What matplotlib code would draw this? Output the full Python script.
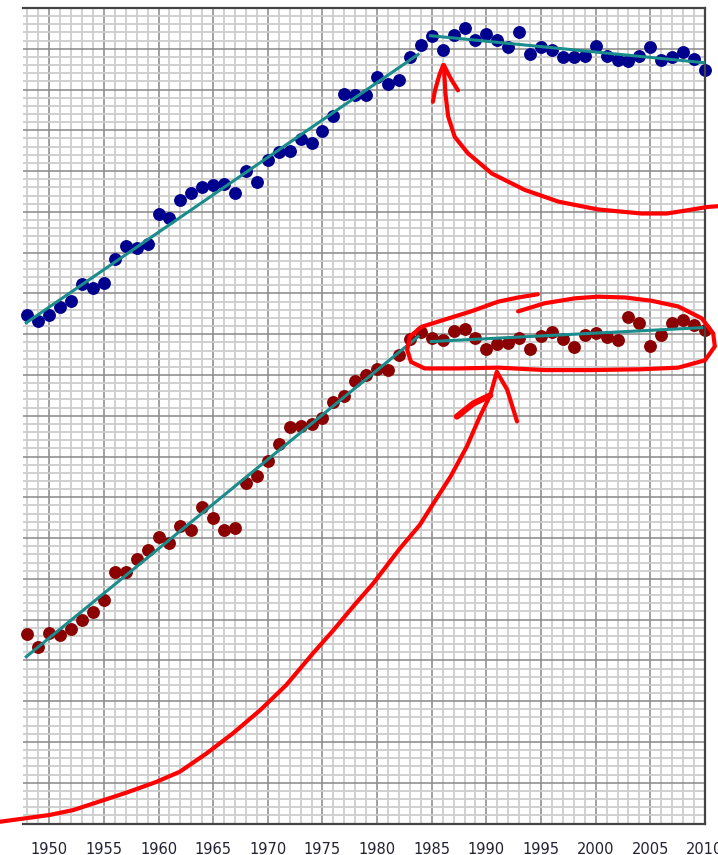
import numpy as np
import matplotlib
matplotlib.use('Agg')
import matplotlib.pyplot as plt
from matplotlib.ticker import MultipleLocator

# ── Data ─────────────────────────────────────────────────────────────────────
years = list(range(1948, 2011))

blue_vals = [
    62.3, 61.6, 62.3, 63.3, 64.1, 66.1, 65.7, 66.3, 69.2, 70.8,
    70.6, 71.0, 74.7, 74.2, 76.4, 77.3, 78.1, 78.3, 78.4, 77.3,
    80.0, 78.7, 81.3, 82.4, 82.5, 83.9, 83.4, 84.9, 86.8, 89.4,
    89.3, 89.3, 91.6, 90.7, 91.2, 94.0, 95.5, 96.6, 94.8, 96.7,
    97.6, 96.1, 96.8, 96.1, 95.2, 97.0, 94.4, 95.2, 94.8, 94.0,
    94.0, 94.1, 95.3, 94.1, 93.6, 93.5, 94.1, 95.2, 93.6, 94.0,
    94.6, 93.8, 92.4,
]

red_vals = [
    23.2, 21.6, 23.3, 23.1, 23.8, 25.0, 25.9, 27.4, 30.8, 30.9,
    32.4, 33.5, 35.1, 34.4, 36.5, 36.0, 38.8, 37.5, 36.0, 36.2,
    41.8, 42.6, 44.5, 46.5, 48.6, 48.8, 49.0, 49.7, 51.7, 52.4,
    54.2, 55.0, 55.7, 55.6, 57.4, 59.4, 60.3, 59.5, 59.3, 60.4,
    60.6, 59.5, 58.2, 58.8, 58.9, 59.5, 58.2, 59.8, 60.3, 59.4,
    58.4, 59.9, 60.2, 59.6, 59.3, 62.1, 61.4, 58.5, 59.9, 61.4,
    61.8, 61.1, 60.5,
]

# trend segments (start/end year, start/end value)
blue_trend_years = [[1947.9, 1983.75], [1984.9, 2009.85]]
blue_trend_vals = [[61.4, 94.3], [96.6, 93.3]]
red_trend_years = [[1947.9, 1983.75], [1984.95, 2009.7]]
red_trend_vals = [[20.45, 59.7], [59.1, 60.8]]

# hand-drawn red annotations (data units)
upper_arrow_years = [2011.2, 2010.2, 2008.4, 2006.5, 2004.2, 2000.2, 1996.6,
                     1993.5, 1990.5, 1988.3, 1987.1, 1986.5, 1986.25, 1986.1,
                     1986.8, 1987.4]
upper_arrow_vals = [75.7, 75.6, 75.2, 74.8, 74.8, 75.3, 76.25,
                    77.7, 79.7, 82.2, 84.2, 86.7, 89.5, 93.0,
                    91.2, 89.9]
upper_barb_years = [1985.1, 1985.3, 1985.7, 1986.05]
upper_barb_vals = [88.5, 89.9, 91.8, 93.0]

loop_years = [1992.9, 1995.35, 1998.1, 2000.2, 2002.7, 2005.1, 2007.55,
              2009.7, 2010.75, 2010.9, 2010.0, 2007.55, 2004.2, 1999.6,
              1995.35, 1991.1, 1987.4, 1984.35, 1983.1, 1982.75, 1983.0,
              1984.05, 1986.2, 1988.6, 1991.1, 1992.9, 1994.7]
loop_vals = [62.8, 63.8, 64.4, 64.6, 64.5, 64.1, 63.4,
             61.95, 60.1, 58.5, 56.8, 55.9, 55.7, 55.6,
             55.6, 55.9, 55.8, 55.8, 56.6, 58.1, 59.7,
             60.9, 61.8, 62.8, 64.0, 64.5, 64.9]

lower_arrow_years = [1945.4, 1947.9, 1950.05, 1952.2, 1954.6, 1957.1, 1959.8,
                     1961.95, 1964.4, 1966.8, 1969.3, 1971.7, 1974.15, 1976.0,
                     1977.8, 1979.65, 1982.1, 1983.9, 1985.15, 1986.7, 1988.2,
                     1989.4, 1990.35, 1990.95, 1991.9, 1992.8]
lower_arrow_vals = [0.2, 0.65, 1.05, 1.65, 2.7, 3.8, 5.1,
                    6.35, 8.6, 11.05, 13.9, 17.0, 20.9, 23.7,
                    26.6, 29.45, 33.75, 36.6, 39.25, 42.5, 46.2,
                    49.9, 52.5, 55.4, 53.2, 49.3]
lower_barb_years = [1987.3, 1988.8, 1990.35]
lower_barb_vals = [49.9, 51.5, 52.5]

x_ticks = list(range(1950, 2011, 5))

BLUE = '#00008f'
DARKRED = '#8b0000'
TEAL = '#1a8c8c'
ANNOT = '#ff0000'

# ── Figure ───────────────────────────────────────────────────────────────────
fig = plt.figure(figsize=(7.18, 8.55), dpi=100)
ax = fig.add_axes([23 / 718, 31.5 / 855, 682 / 718, 815.5 / 855])

ax.set_xlim(1947.6, 2010)
ax.set_ylim(0, 100)

ax.xaxis.set_minor_locator(MultipleLocator(1))
ax.yaxis.set_major_locator(MultipleLocator(5))
ax.yaxis.set_minor_locator(MultipleLocator(1))
ax.set_xticks(x_ticks)
ax.set_xticklabels([str(t) for t in x_ticks])
ax.set_yticklabels([])
ax.tick_params(which='both', length=0)
ax.tick_params(axis='x', pad=13, labelsize=10.5, labelcolor='#222233')

ax.grid(which='minor', color='#cdcdcd', linewidth=1.3)
ax.grid(which='major', color='#8c8c8c', linewidth=1.15)
ax.set_axisbelow(True)

for side in ['top', 'right', 'bottom']:
    ax.spines[side].set_color('#444444')
    ax.spines[side].set_linewidth(1.6)
ax.spines['left'].set_visible(False)

# trends
for yrs, vals in zip(blue_trend_years, blue_trend_vals):
    ax.plot(yrs, vals, color=TEAL, lw=2.2, zorder=3)
for yrs, vals in zip(red_trend_years, red_trend_vals):
    ax.plot(yrs, vals, color=TEAL, lw=2.2, zorder=3)

# points
ax.scatter(years, blue_vals, s=68, color=BLUE, zorder=2, clip_on=False)
ax.scatter(years, red_vals, s=68, color=DARKRED, zorder=2, clip_on=False)

# annotations
akw = dict(color=ANNOT, lw=3.0, solid_capstyle='round', solid_joinstyle='round',
           clip_on=False, zorder=5)
ax.plot(upper_arrow_years, upper_arrow_vals, **akw)
ax.plot(upper_barb_years, upper_barb_vals, **akw)
ax.plot(loop_years, loop_vals, **akw)
ax.plot(lower_arrow_years, lower_arrow_vals, **akw)
ax.plot(lower_barb_years, lower_barb_vals, **{**akw, 'lw': 4.5})

fig.savefig('out.png', dpi=100)
